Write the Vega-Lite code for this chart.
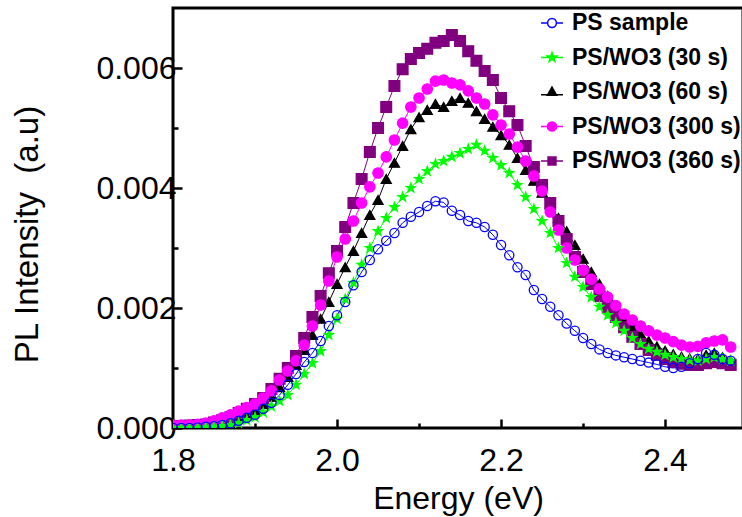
{
  "$schema": "https://vega.github.io/schema/vega-lite/v6.json",
  "width": 570,
  "height": 420,
  "autosize": {"type": "none"},
  "padding": {"left": 173, "top": 8, "right": 0, "bottom": 89},
  "background": "white",
  "config": {"view": {"stroke": "black", "strokeWidth": 3}, "font": "Liberation Sans"},
  "data": {"values": [
    {"e":1.80,"ps":0.00000,"w30":0.00000,"w60":0.00004,"w300":0.00005,"w360":0.00003},
    {"e":1.81,"ps":0.00000,"w30":0.00000,"w60":0.00004,"w300":0.00005,"w360":0.00003},
    {"e":1.82,"ps":0.00000,"w30":0.00000,"w60":0.00004,"w300":0.00005,"w360":0.00004},
    {"e":1.83,"ps":0.00001,"w30":0.00000,"w60":0.00005,"w300":0.00006,"w360":0.00005},
    {"e":1.84,"ps":0.00002,"w30":0.00001,"w60":0.00006,"w300":0.00008,"w360":0.00006},
    {"e":1.85,"ps":0.00003,"w30":0.00002,"w60":0.00007,"w300":0.00012,"w360":0.00009},
    {"e":1.86,"ps":0.00005,"w30":0.00003,"w60":0.00009,"w300":0.00017,"w360":0.00013},
    {"e":1.87,"ps":0.00008,"w30":0.00005,"w60":0.00012,"w300":0.00022,"w360":0.00018},
    {"e":1.88,"ps":0.00012,"w30":0.00008,"w60":0.00016,"w300":0.00028,"w360":0.00025},
    {"e":1.89,"ps":0.00017,"w30":0.00013,"w60":0.00021,"w300":0.00034,"w360":0.00032},
    {"e":1.90,"ps":0.00022,"w30":0.00018,"w60":0.00028,"w300":0.00040,"w360":0.00040},
    {"e":1.91,"ps":0.00032,"w30":0.00026,"w60":0.00040,"w300":0.00050,"w360":0.00050},
    {"e":1.92,"ps":0.00042,"w30":0.00036,"w60":0.00052,"w300":0.00062,"w360":0.00065},
    {"e":1.93,"ps":0.00055,"w30":0.00045,"w60":0.00068,"w300":0.00080,"w360":0.00082},
    {"e":1.94,"ps":0.00072,"w30":0.00055,"w60":0.00085,"w300":0.00095,"w360":0.00100},
    {"e":1.95,"ps":0.00090,"w30":0.00072,"w60":0.00105,"w300":0.00112,"w360":0.00120},
    {"e":1.96,"ps":0.00110,"w30":0.00090,"w60":0.00130,"w300":0.00138,"w360":0.00150},
    {"e":1.97,"ps":0.00125,"w30":0.00108,"w60":0.00155,"w300":0.00170,"w360":0.00185},
    {"e":1.98,"ps":0.00145,"w30":0.00128,"w60":0.00182,"w300":0.00205,"w360":0.00220},
    {"e":1.99,"ps":0.00170,"w30":0.00155,"w60":0.00210,"w300":0.00245,"w360":0.00258},
    {"e":2.00,"ps":0.00188,"w30":0.00182,"w60":0.00240,"w300":0.00285,"w360":0.00295},
    {"e":2.01,"ps":0.00210,"w30":0.00215,"w60":0.00268,"w300":0.00315,"w360":0.00335},
    {"e":2.02,"ps":0.00238,"w30":0.00242,"w60":0.00295,"w300":0.00345,"w360":0.00375},
    {"e":2.03,"ps":0.00260,"w30":0.00272,"w60":0.00325,"w300":0.00375,"w360":0.00415},
    {"e":2.04,"ps":0.00280,"w30":0.00300,"w60":0.00355,"w300":0.00402,"w360":0.00460},
    {"e":2.05,"ps":0.00298,"w30":0.00328,"w60":0.00380,"w300":0.00425,"w360":0.00500},
    {"e":2.06,"ps":0.00312,"w30":0.00350,"w60":0.00415,"w300":0.00452,"w360":0.00535},
    {"e":2.07,"ps":0.00325,"w30":0.00368,"w60":0.00442,"w300":0.00480,"w360":0.00570},
    {"e":2.08,"ps":0.00342,"w30":0.00385,"w60":0.00470,"w300":0.00508,"w360":0.00598},
    {"e":2.09,"ps":0.00352,"w30":0.00400,"w60":0.00498,"w300":0.00535,"w360":0.00615},
    {"e":2.10,"ps":0.00360,"w30":0.00415,"w60":0.00518,"w300":0.00550,"w360":0.00625},
    {"e":2.11,"ps":0.00370,"w30":0.00428,"w60":0.00530,"w300":0.00565,"w360":0.00632},
    {"e":2.12,"ps":0.00378,"w30":0.00440,"w60":0.00540,"w300":0.00578,"w360":0.00642},
    {"e":2.13,"ps":0.00376,"w30":0.00445,"w60":0.00535,"w300":0.00580,"w360":0.00645},
    {"e":2.14,"ps":0.00362,"w30":0.00452,"w60":0.00545,"w300":0.00575,"w360":0.00655},
    {"e":2.15,"ps":0.00355,"w30":0.00458,"w60":0.00550,"w300":0.00572,"w360":0.00645},
    {"e":2.16,"ps":0.00345,"w30":0.00465,"w60":0.00542,"w300":0.00562,"w360":0.00628},
    {"e":2.17,"ps":0.00342,"w30":0.00472,"w60":0.00528,"w300":0.00550,"w360":0.00612},
    {"e":2.18,"ps":0.00335,"w30":0.00462,"w60":0.00515,"w300":0.00540,"w360":0.00595},
    {"e":2.19,"ps":0.00322,"w30":0.00450,"w60":0.00502,"w300":0.00522,"w360":0.00580},
    {"e":2.20,"ps":0.00305,"w30":0.00438,"w60":0.00488,"w300":0.00505,"w360":0.00550},
    {"e":2.21,"ps":0.00288,"w30":0.00425,"w60":0.00472,"w300":0.00490,"w360":0.00528},
    {"e":2.22,"ps":0.00268,"w30":0.00405,"w60":0.00450,"w300":0.00468,"w360":0.00505},
    {"e":2.23,"ps":0.00255,"w30":0.00385,"w60":0.00430,"w300":0.00445,"w360":0.00470},
    {"e":2.24,"ps":0.00230,"w30":0.00365,"w60":0.00412,"w300":0.00420,"w360":0.00435},
    {"e":2.25,"ps":0.00215,"w30":0.00345,"w60":0.00392,"w300":0.00395,"w360":0.00405},
    {"e":2.26,"ps":0.00202,"w30":0.00325,"w60":0.00372,"w300":0.00360,"w360":0.00375},
    {"e":2.27,"ps":0.00188,"w30":0.00300,"w60":0.00350,"w300":0.00330,"w360":0.00345},
    {"e":2.28,"ps":0.00174,"w30":0.00275,"w60":0.00328,"w300":0.00300,"w360":0.00315},
    {"e":2.29,"ps":0.00162,"w30":0.00252,"w60":0.00305,"w300":0.00280,"w360":0.00285},
    {"e":2.30,"ps":0.00150,"w30":0.00235,"w60":0.00282,"w300":0.00263,"w360":0.00260},
    {"e":2.31,"ps":0.00140,"w30":0.00218,"w60":0.00260,"w300":0.00248,"w360":0.00240},
    {"e":2.32,"ps":0.00131,"w30":0.00202,"w60":0.00240,"w300":0.00232,"w360":0.00220},
    {"e":2.33,"ps":0.00125,"w30":0.00188,"w60":0.00220,"w300":0.00218,"w360":0.00202},
    {"e":2.34,"ps":0.00121,"w30":0.00175,"w60":0.00202,"w300":0.00204,"w360":0.00185},
    {"e":2.35,"ps":0.00118,"w30":0.00162,"w60":0.00185,"w300":0.00190,"w360":0.00168},
    {"e":2.36,"ps":0.00115,"w30":0.00150,"w60":0.00170,"w300":0.00180,"w360":0.00152},
    {"e":2.37,"ps":0.00112,"w30":0.00140,"w60":0.00157,"w300":0.00170,"w360":0.00140},
    {"e":2.38,"ps":0.00109,"w30":0.00132,"w60":0.00145,"w300":0.00162,"w360":0.00130},
    {"e":2.39,"ps":0.00106,"w30":0.00127,"w60":0.00136,"w300":0.00155,"w360":0.00122},
    {"e":2.40,"ps":0.00102,"w30":0.00122,"w60":0.00129,"w300":0.00150,"w360":0.00115},
    {"e":2.41,"ps":0.00100,"w30":0.00118,"w60":0.00123,"w300":0.00144,"w360":0.00110},
    {"e":2.42,"ps":0.00102,"w30":0.00115,"w60":0.00119,"w300":0.00138,"w360":0.00107},
    {"e":2.43,"ps":0.00108,"w30":0.00113,"w60":0.00116,"w300":0.00135,"w360":0.00105},
    {"e":2.44,"ps":0.00115,"w30":0.00112,"w60":0.00115,"w300":0.00136,"w360":0.00105},
    {"e":2.45,"ps":0.00125,"w30":0.00115,"w60":0.00122,"w300":0.00142,"w360":0.00108},
    {"e":2.46,"ps":0.00122,"w30":0.00118,"w60":0.00125,"w300":0.00145,"w360":0.00110},
    {"e":2.47,"ps":0.00115,"w30":0.00115,"w60":0.00118,"w300":0.00147,"w360":0.00108},
    {"e":2.48,"ps":0.00112,"w30":0.00112,"w60":0.00112,"w300":0.00135,"w360":0.00105}
  ]},
  "transform": [{"fold": ["ps", "w30", "w60", "w300", "w360"], "as": ["k", "v"]}],
  "encoding": {
    "x": {
      "field": "e", "type": "quantitative",
      "scale": {"domain": [1.8, 2.495], "nice": false, "zero": false},
      "axis": {
        "values": [1.8, 1.9, 2.0, 2.1, 2.2, 2.3, 2.4],
        "labelExpr": "round(datum.value*10)%2==0 ? format(datum.value,'.1f') : ''",
        "domain": false, "grid": false,
        "tickColor": "black", "tickWidth": 2.5,
        "tickSize": {"condition": {"test": "round(datum.value*10)%2==0", "value": -9}, "value": -5},
        "labelFontSize": 32, "labelColor": "black", "labelFlush": false, "labelOverlap": false,
        "labelPadding": 26,
        "title": "Energy (eV)", "titleFontSize": 32, "titleFontWeight": "normal", "titleColor": "black",
        "titlePadding": 3
      }
    },
    "y": {
      "field": "v", "type": "quantitative",
      "scale": {"domain": [0, 0.007], "nice": false, "zero": true},
      "axis": {
        "values": [0, 0.001, 0.002, 0.003, 0.004, 0.005, 0.006],
        "labelExpr": "round(datum.value*1000)%2==0 ? format(datum.value,'.3f') : ''",
        "domain": false, "grid": false,
        "tickColor": "black", "tickWidth": 2.5,
        "tickSize": {"condition": {"test": "round(datum.value*1000)%2==0", "value": -9}, "value": -5},
        "labelFontSize": 32, "labelColor": "black", "labelFlush": false, "labelOverlap": false,
        "labelPadding": 6,
        "title": "PL Intensity\u00a0 (a.u)", "titleFontSize": 33, "titleFontWeight": "normal", "titleColor": "black",
        "titleX": -146, "titleY": 226, "titleAlign": "center", "titleBaseline": "middle", "titleAngle": 270
      }
    }
  },
  "layer": [
    {
      "mark": {"type": "line", "strokeWidth": 1, "clip": true},
      "encoding": {
        "stroke": {"field": "k", "type": "nominal",
          "scale": {"domain": ["ps", "w30", "w60", "w300", "w360"], "range": ["#0000ff", "#00ff00", "#000000", "#ff00ff", "#800080"]},
          "legend": null}
      }
    },
    {
      "mark": {"type": "point", "filled": true, "strokeWidth": 1.3, "opacity": 1, "clip": true},
      "encoding": {
        "shape": {"field": "k", "type": "nominal",
          "scale": {"domain": ["ps", "w30", "w60", "w300", "w360"],
            "range": ["circle", "M0,-1L0.235,-0.324L0.951,-0.309L0.38,0.124L0.588,0.809L0,0.4L-0.588,0.809L-0.38,0.124L-0.951,-0.309L-0.235,-0.324Z", "triangle-up", "circle", "square"]},
          "legend": null},
        "fill": {"field": "k", "type": "nominal",
          "scale": {"domain": ["ps", "w30", "w60", "w300", "w360"], "range": ["rgba(0,0,0,0)", "#00ff00", "#000000", "#ff00ff", "#800080"]},
          "legend": null},
        "stroke": {"field": "k", "type": "nominal",
          "scale": {"domain": ["ps", "w30", "w60", "w300", "w360"], "range": ["#0000ff", "#00ff00", "#000000", "#ff00ff", "#800080"]},
          "legend": null},
        "size": {"field": "k", "type": "ordinal",
          "scale": {"domain": ["ps", "w30", "w60", "w300", "w360"], "range": [85, 115, 100, 100, 90]},
          "legend": null},
        "order": {"field": "k", "sort": "descending"}
      }
    },
    {
      "transform": [{"filter": "false"}],
      "mark": {"type": "point", "filled": true, "strokeWidth": 1.5, "opacity": 1},
      "encoding": {
        "shape": {"field": "k", "type": "nominal",
          "scale": {"domain": ["ps", "w30", "w60", "w300", "w360"],
            "range": [
              "M-1,0H-0.4M0.4,0H1M0.4,0A0.4,0.4,0,1,1,-0.4,0A0.4,0.4,0,1,1,0.4,0Z",
              "M-1,0H1M0,-0.45L0.106,-0.146L0.428,-0.139L0.171,0.056L0.265,0.364L0,0.18L-0.265,0.364L-0.171,0.056L-0.428,-0.139L-0.106,-0.146Z",
              "M-1,0.25H1M0,-0.45L0.42,0.3L-0.42,0.3Z",
              "M-1,0H1M0.42,0A0.42,0.42,0,1,1,-0.42,0A0.42,0.42,0,1,1,0.42,0Z",
              "M-1,0H1M-0.36,-0.36H0.36V0.36H-0.36Z"
            ]},
          "legend": {"title": null, "orient": "none", "legendX": 367, "legendY": 3, "padding": 0,
            "symbolSize": 484, "symbolStrokeWidth": 1.5, "symbolOpacity": 1, "rowPadding": 10.5, "labelOffset": 8,
            "labelFontSize": 23, "labelFontWeight": "bold", "labelColor": "black", "labelLimit": 0,
            "labelExpr": "{'ps':'PS sample','w30':'PS/WO3 (30 s)','w60':'PS/WO3 (60 s)','w300':'PS/WO3 (300 s)','w360':'PS/WO3 (360 s)'}[datum.label]"}},
        "fill": {"field": "k", "type": "nominal",
          "scale": {"domain": ["ps", "w30", "w60", "w300", "w360"], "range": ["#ffffff", "#00ff00", "#000000", "#ff00ff", "#800080"]},
          "legend": {"title": null, "orient": "none", "legendX": 367, "legendY": 3, "padding": 0,
            "symbolSize": 484, "symbolStrokeWidth": 1.5, "symbolOpacity": 1, "rowPadding": 10.5, "labelOffset": 8,
            "labelFontSize": 23, "labelFontWeight": "bold", "labelColor": "black", "labelLimit": 0,
            "labelExpr": "{'ps':'PS sample','w30':'PS/WO3 (30 s)','w60':'PS/WO3 (60 s)','w300':'PS/WO3 (300 s)','w360':'PS/WO3 (360 s)'}[datum.label]"}},
        "stroke": {"field": "k", "type": "nominal",
          "scale": {"domain": ["ps", "w30", "w60", "w300", "w360"], "range": ["#0000ff", "#00ff00", "#000000", "#ff00ff", "#800080"]},
          "legend": {"title": null, "orient": "none", "legendX": 367, "legendY": 3, "padding": 0,
            "symbolSize": 484, "symbolStrokeWidth": 1.5, "symbolOpacity": 1, "rowPadding": 10.5, "labelOffset": 8,
            "labelFontSize": 23, "labelFontWeight": "bold", "labelColor": "black", "labelLimit": 0,
            "labelExpr": "{'ps':'PS sample','w30':'PS/WO3 (30 s)','w60':'PS/WO3 (60 s)','w300':'PS/WO3 (300 s)','w360':'PS/WO3 (360 s)'}[datum.label]"}}
      }
    }
  ],
  "resolve": {"scale": {"shape": "independent", "fill": "independent", "stroke": "independent", "size": "independent"}}
}
